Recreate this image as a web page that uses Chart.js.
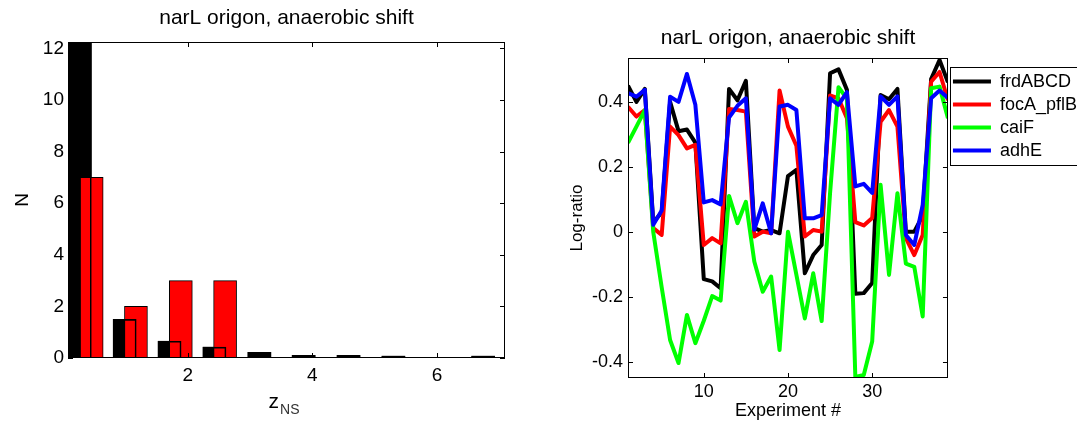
<!DOCTYPE html>
<html>
<head>
<meta charset="utf-8">
<title>narL origon, anaerobic shift</title>
<script src="https://cdn.jsdelivr.net/npm/chart.js@4.4.1/dist/chart.umd.min.js"></script>
<style>
  html, body { margin: 0; padding: 0; background: #fff; overflow: hidden; }
  #histChart { position: absolute; left: 0; top: 0; }
  #ratioChart { position: absolute; left: 540px; top: 0; }
</style>
</head>
<body>
<canvas id="histChart" width="540" height="423"></canvas>
<canvas id="ratioChart" width="547" height="423"></canvas>
<script>
/*********************************************/
/*        left panel: z_NS histogram         */
/*********************************************/
const histTitle = "narL origon, anaerobic shift";
// black = expected (null) counts, red = observed counts
const nullBinCenters = [0.27, 0.99, 1.71, 2.43, 3.15, 3.86, 4.58, 5.30, 6.02, 6.74];
const nullCounts = [30, 1.5, 0.65, 0.42, 0.22, 0.1, 0.1, 0.07, 0, 0.07];
const obsBinCenters = [0.46, 1.17, 1.89, 2.6];
const obsCounts = [7, 2, 3, 3];
const histXTicks = [2, 4, 6];
const histYTicks = [0, 2, 4, 6, 8, 10, 12];
const histXLabel = "z";
const histXLabelSub = "NS";
const histYLabel = "N";

/*********************************************/
/*        right panel: log-ratio lines       */
/*********************************************/
const ratioTitle = "narL origon, anaerobic shift";
const experiments = [1, 2, 3, 4, 5, 6, 7, 8, 9, 10, 11, 12, 13, 14, 15, 16, 17, 18, 19, 20,
  21, 22, 23, 24, 25, 26, 27, 28, 29, 30, 31, 32, 33, 34, 35, 36, 37, 38, 39];
const frdABCD = [0.45, 0.40, 0.44, 0.03, 0.06, 0.40, 0.31, 0.315, 0.275, -0.145,
  -0.152, -0.173, 0.44, 0.405, 0.465, 0.012, 0.001, 0.006, -0.004, 0.172,
  0.191, -0.127, -0.071, -0.04, 0.488, 0.50, 0.437, -0.19, -0.188, -0.157,
  0.421, 0.408, 0.44, 0.001, 0.001, 0.05, 0.47, 0.529, 0.46];
const focA_pflB = [0.385, 0.355, 0.375, 0.012, -0.009, 0.324, 0.298, 0.257, 0.268, -0.04,
  -0.019, -0.035, 0.378, 0.375, 0.37, -0.014, 0.001, -0.004, 0.435, 0.324,
  0.265, -0.014, 0.006, 0.001, 0.42, 0.411, 0.35, 0.03, 0.02, 0.043,
  0.339, 0.375, 0.324, -0.019, -0.071, -0.009, 0.462, 0.492, 0.405];
const caiF = [0.274, 0.324, 0.375, 0.0, -0.17, -0.332, -0.403, -0.255, -0.342, -0.273,
  -0.197, -0.211, 0.111, 0.027, 0.093, -0.091, -0.184, -0.137, -0.363, 0.001,
  -0.132, -0.266, -0.127, -0.274, 0.12, 0.445, 0.41, -0.446, -0.44, -0.337,
  0.145, -0.132, 0.119, -0.097, -0.107, -0.26, 0.442, 0.447, 0.35];
const adhE = [0.427, 0.416, 0.437, 0.022, 0.066, 0.416, 0.40, 0.486, 0.391, 0.091,
  0.098, 0.085, 0.352, 0.388, 0.411, 0.007, 0.088, -0.004, 0.386, 0.391,
  0.375, 0.042, 0.042, 0.052, 0.411, 0.391, 0.43, 0.14, 0.148, 0.12,
  0.417, 0.391, 0.417, -0.009, -0.04, 0.083, 0.411, 0.435, 0.412];
const ratioXTicks = [10, 20, 30];
const ratioYTicks = [-0.4, -0.2, 0, 0.2, 0.4];

Chart.defaults.font.family = '"Liberation Sans", Arial, sans-serif';
Chart.defaults.color = "#000";

// MATLAB-style frame: box round the axes with short inward ticks
const axesBox = {
  id: "axesBox",
  afterDatasetsDraw(chart) {
    const { ctx, chartArea: a, scales: { x, y } } = chart;
    const len = 5;
    ctx.save();
    ctx.strokeStyle = "#000";
    ctx.lineWidth = 1;
    ctx.beginPath();
    x.ticks.forEach((t) => {
      const px = Math.round(x.getPixelForValue(t.value)) + 0.5;
      ctx.moveTo(px, a.bottom); ctx.lineTo(px, a.bottom - len);
      ctx.moveTo(px, a.top); ctx.lineTo(px, a.top + len);
    });
    y.ticks.forEach((t) => {
      const py = Math.round(y.getPixelForValue(t.value)) + 0.5;
      ctx.moveTo(a.left, py); ctx.lineTo(a.left + len, py);
      ctx.moveTo(a.right, py); ctx.lineTo(a.right - len, py);
    });
    ctx.stroke();
    ctx.strokeRect(Math.round(a.left) + 0.5, Math.round(a.top) + 0.5,
      Math.round(a.width) - 1, Math.round(a.height) - 1);
    ctx.restore();
  }
};

// x label with a subscript (z_NS), chart.js titles can't do subscripts
const subLabel = {
  id: "subLabel",
  afterDraw(chart) {
    const { ctx, chartArea: a } = chart;
    const fam = Chart.defaults.font.family;
    ctx.save();
    ctx.fillStyle = "#000";
    ctx.textBaseline = "alphabetic";
    ctx.textAlign = "left";
    ctx.font = "21px " + fam;
    const wMain = ctx.measureText(histXLabel).width;
    ctx.font = "14px " + fam;
    const wSub = ctx.measureText(histXLabelSub).width;
    const x0 = (a.left + a.right) / 2 - (wMain + wSub) / 2 - 3;
    ctx.font = "21px " + fam;
    ctx.fillText(histXLabel, x0, a.bottom + 50);
    ctx.font = "14px " + fam;
    ctx.fillStyle = "#333";
    ctx.fillText(histXLabelSub, x0 + wMain + 1, a.bottom + 56);
    ctx.restore();
  }
};

// frame round the legend (right panel)
const legendFrame = {
  id: "legendFrame",
  afterDraw(chart) {
    const lg = chart.legend;
    const boxes = lg.legendHitBoxes;
    if (!boxes || !boxes.length) return;
    const first = boxes[0];
    const last = boxes[boxes.length - 1];
    const ctx = chart.ctx;
    ctx.save();
    ctx.strokeStyle = "#000";
    ctx.lineWidth = 1;
    ctx.strokeRect(Math.round(lg.left) + 2.5, Math.round(first.top) - 6 + 0.5,
      lg.width, Math.round(last.top + last.height - first.top) + 11);
    ctx.restore();
  }
};

/*********************************************/
/*               histogram chart             */
/*********************************************/
const histCtx = document.getElementById("histChart");
new Chart(histCtx, {
  type: "bar",
  data: {
    datasets: [
      {
        // expected counts, filled black, sits underneath
        label: "null",
        data: nullBinCenters.map((c, i) => ({ x: c, y: nullCounts[i] })),
        backgroundColor: "#000",
        borderWidth: 0,
        stack: "hist",
        order: 2
      },
      {
        label: "observed",
        data: obsBinCenters.map((c, i) => ({ x: c, y: obsCounts[i] })),
        backgroundColor: "#ff0000",
        borderColor: "#000",
        borderWidth: 1,
        stack: "hist",
        order: 1
      },
      {
        // outline of the black bars drawn over the red ones
        label: "null outline",
        data: nullBinCenters.map((c, i) => ({ x: c, y: nullCounts[i] })),
        backgroundColor: "rgba(0,0,0,0)",
        borderColor: "#000",
        borderWidth: 1,
        stack: "hist",
        order: 0
      }
    ]
  },
  options: {
    responsive: false,
    animation: false,
    devicePixelRatio: 1,
    barThickness: 23,
    layout: { padding: { left: 0, right: 35, top: 0, bottom: 0 } },
    plugins: {
      legend: { display: false },
      tooltip: { enabled: false },
      title: {
        display: true,
        text: histTitle,
        fullSize: false,
        font: { size: 21, weight: "normal" },
        padding: { top: 6, bottom: 10.8 }
      }
    },
    scales: {
      x: {
        type: "linear",
        min: 0.08,
        max: 7.09,
        offset: false,
        grid: { display: false, drawTicks: false },
        border: { display: false },
        ticks: { font: { size: 19 }, padding: 6, maxRotation: 0, callback: (v) => String(v) },
        afterBuildTicks: (s) => { s.ticks = histXTicks.map((v) => ({ value: v })); },
        afterFit: (s) => { s.height = 65; }
      },
      y: {
        min: 0,
        max: 12.25,
        stacked: false,
        grid: { display: false, drawTicks: false },
        border: { display: false },
        ticks: { font: { size: 19 }, padding: 4, callback: (v) => String(v) },
        afterBuildTicks: (s) => { s.ticks = histYTicks.map((v) => ({ value: v })); },
        afterFit: (s) => { s.width = 68; },
        title: { display: true, text: histYLabel, font: { size: 19 }, padding: { top: 11, bottom: 0 } }
      }
    }
  },
  plugins: [axesBox, subLabel]
});

/*********************************************/
/*               log-ratio chart             */
/*********************************************/
const ratioCtx = document.getElementById("ratioChart");
const lineSet = (label, values, color, order) => ({
  label: label,
  data: values,
  borderColor: color,
  backgroundColor: color,
  borderWidth: 4,
  borderJoinStyle: "round",
  pointRadius: 0,
  tension: 0,
  fill: false,
  order: order // matlab draws the later lines on top
});

new Chart(ratioCtx, {
  type: "line",
  data: {
    labels: experiments,
    datasets: [
      lineSet("frdABCD", frdABCD, "#000000", 3),
      lineSet("focA_pflB", focA_pflB, "#ff0000", 2),
      lineSet("caiF", caiF, "#00ff00", 1),
      lineSet("adhE", adhE, "#0000ff", 0)
    ]
  },
  options: {
    responsive: false,
    animation: false,
    devicePixelRatio: 1,
    layout: { padding: 0 },
    plugins: {
      tooltip: { enabled: false },
      title: {
        display: true,
        text: ratioTitle,
        fullSize: false,
        font: { size: 21, weight: "normal" },
        padding: { top: 26, bottom: 6.8 }
      },
      legend: {
        position: "right",
        align: "start",
        fullSize: false,
        maxWidth: 200,
        // empty title just pushes the entries down a little
        title: { display: true, text: "", font: { size: 8 }, padding: 0 },
        labels: {
          boxWidth: 38,
          boxHeight: 4,
          padding: 5,
          font: { size: 18 },
          color: "#000",
          sort: (a, b) => a.datasetIndex - b.datasetIndex,
          generateLabels: (chart) => {
            const items = Chart.defaults.plugins.legend.labels.generateLabels(chart);
            items.forEach((it) => { it.lineWidth = 0; });
            return items;
          }
        }
      }
    },
    scales: {
      x: {
        type: "linear",
        min: 1,
        max: 39,
        grid: { display: false, drawTicks: false },
        border: { display: false },
        ticks: { font: { size: 18 }, padding: 3, maxRotation: 0, callback: (v) => String(v) },
        afterBuildTicks: (s) => { s.ticks = ratioXTicks.map((v) => ({ value: v })); },
        afterFit: (s) => { s.height = 45; },
        title: { display: true, text: "Experiment #", font: { size: 18 }, padding: { top: 0, bottom: 1 } }
      },
      y: {
        min: -0.449,
        max: 0.535,
        grid: { display: false, drawTicks: false },
        border: { display: false },
        ticks: { font: { size: 18 }, padding: 5, callback: (v) => (v === 0 ? "0" : v.toFixed(1)) },
        afterBuildTicks: (s) => { s.ticks = ratioYTicks.map((v) => ({ value: v })); },
        afterFit: (s) => { s.width = 88; },
        title: { display: true, text: "Log-ratio", font: { size: 17 }, padding: { top: 27, bottom: 0 } }
      }
    }
  },
  plugins: [axesBox, legendFrame]
});
</script>
</body>
</html>
